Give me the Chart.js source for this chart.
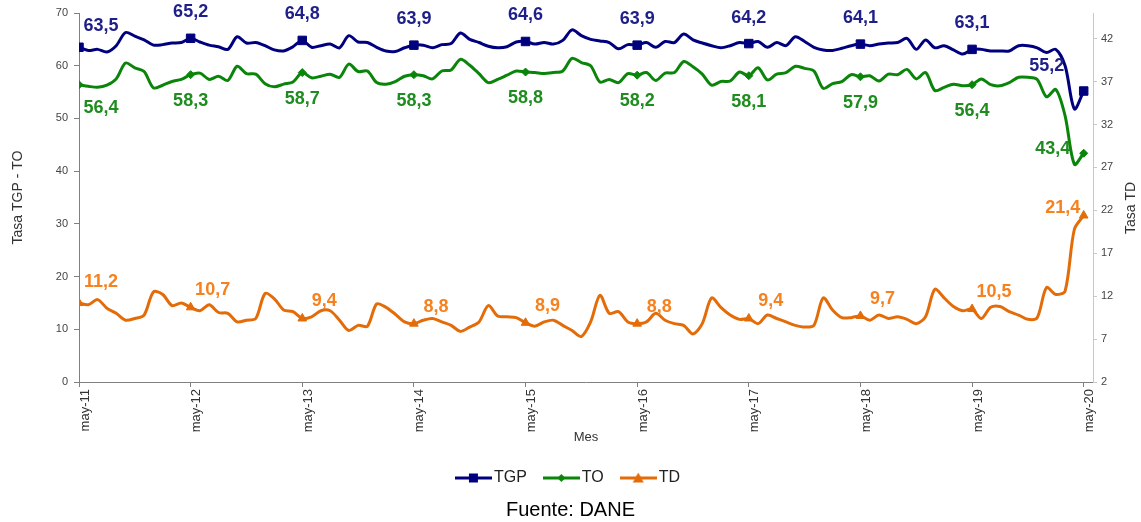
<!DOCTYPE html>
<html>
<head>
<meta charset="utf-8">
<script src="https://cdn.jsdelivr.net/npm/chart.js@4.4.1/dist/chart.umd.min.js"></script>
<style>
  html, body { margin: 0; padding: 0; background: #fff; }
</style>
</head>
<body>
<canvas id="myChart" width="1141" height="522"></canvas>
<script>
// months from may-11 to may-20
const months = [
  "may-11", "jun-11", "jul-11", "ago-11", "sep-11", "oct-11", "nov-11", "dic-11", "ene-12", "feb-12", "mar-12", "abr-12",
  "may-12", "jun-12", "jul-12", "ago-12", "sep-12", "oct-12", "nov-12", "dic-12", "ene-13", "feb-13", "mar-13", "abr-13",
  "may-13", "jun-13", "jul-13", "ago-13", "sep-13", "oct-13", "nov-13", "dic-13", "ene-14", "feb-14", "mar-14", "abr-14",
  "may-14", "jun-14", "jul-14", "ago-14", "sep-14", "oct-14", "nov-14", "dic-14", "ene-15", "feb-15", "mar-15", "abr-15",
  "may-15", "jun-15", "jul-15", "ago-15", "sep-15", "oct-15", "nov-15", "dic-15", "ene-16", "feb-16", "mar-16", "abr-16",
  "may-16", "jun-16", "jul-16", "ago-16", "sep-16", "oct-16", "nov-16", "dic-16", "ene-17", "feb-17", "mar-17", "abr-17",
  "may-17", "jun-17", "jul-17", "ago-17", "sep-17", "oct-17", "nov-17", "dic-17", "ene-18", "feb-18", "mar-18", "abr-18",
  "may-18", "jun-18", "jul-18", "ago-18", "sep-18", "oct-18", "nov-18", "dic-18", "ene-19", "feb-19", "mar-19", "abr-19",
  "may-19", "jun-19", "jul-19", "ago-19", "sep-19", "oct-19", "nov-19", "dic-19", "ene-20", "feb-20", "mar-20", "abr-20",
  "may-20",
];

const tgp = [
  63.5, 62.9, 63.1, 62.6, 63.8, 66.3, 65.6, 64.9, 63.9, 64.0, 64.3, 64.4,
  65.2, 64.5, 63.9, 63.6, 63.1, 65.5, 64.3, 64.4, 63.8, 63.0, 62.8, 63.6,
  64.8, 63.5, 63.8, 64.1, 63.4, 65.7, 64.5, 64.4, 63.5, 62.8, 62.7, 63.4,
  63.9, 63.9, 63.4, 64.0, 64.2, 66.2, 65.0, 64.4, 63.7, 63.4, 63.6, 64.5,
  64.6, 64.1, 64.4, 64.1, 64.8, 66.8, 65.7, 65.0, 64.7, 64.4, 63.2, 64.0,
  63.9, 64.4, 63.5, 64.6, 64.4, 66.0, 64.9, 64.3, 63.8, 63.4, 63.8, 64.4,
  64.2, 64.6, 63.5, 64.4, 63.8, 65.5, 64.6, 63.5, 63.0, 62.9, 63.3, 63.8,
  64.1, 63.8, 64.1, 64.3, 64.4, 65.2, 63.1, 64.9, 63.4, 63.8, 63.0, 62.2,
  63.1, 63.1, 62.8, 62.8, 62.8, 63.8, 63.8, 63.4, 62.5, 63.1, 60.0, 51.8,
  55.2,
];

const to = [
  56.4, 56.1, 55.9, 56.3, 57.5, 60.5, 59.6, 58.9, 55.8, 56.3, 57.0, 57.4,
  58.3, 58.6, 57.4, 58.0, 57.2, 59.9, 58.5, 58.4, 56.6, 56.0, 56.5, 56.9,
  58.7, 57.7, 58.0, 58.4, 57.8, 60.3, 58.9, 59.0, 56.8, 56.5, 57.0, 58.0,
  58.3, 58.1, 57.5, 59.0, 59.2, 61.2, 60.1, 58.5, 56.8, 57.4, 58.2, 59.0,
  58.8, 58.7, 58.5, 58.7, 59.0, 61.4, 60.6, 60.0, 56.9, 57.4, 56.8, 58.5,
  58.2, 58.7, 57.2, 58.6, 58.7, 60.8, 59.8, 58.4, 56.3, 57.0, 57.1, 58.8,
  58.1, 59.6, 57.3, 58.4, 58.7, 59.9, 59.5, 59.0, 55.7, 56.6, 57.0, 58.3,
  57.9, 58.1, 57.1, 58.4, 58.3, 59.3, 57.5, 58.7, 55.3, 55.9, 56.5, 56.2,
  56.4, 57.5, 56.4, 56.2, 56.8, 57.8, 57.8, 57.4, 54.1, 55.5, 50.5, 41.3,
  43.4,
];

const td = [
  11.2, 11.0, 11.6, 10.6, 10.0, 9.2, 9.4, 9.8, 12.5, 12.2, 10.9, 11.2,
  10.7, 10.3, 11.0, 10.1, 10.0, 9.0, 9.2, 9.4, 12.3, 11.7, 10.4, 10.2,
  9.4, 9.6, 10.3, 10.3, 9.2, 8.0, 8.6, 8.5, 11.1, 10.7, 9.9, 9.0,
  8.8, 9.2, 9.4, 9.0, 8.6, 7.9, 8.4, 9.0, 10.9, 9.7, 9.6, 9.5,
  8.9, 8.5, 9.0, 9.2, 8.6, 8.0, 7.3, 9.0, 12.1, 10.0, 10.2, 9.0,
  8.8, 9.0, 10.0, 9.2, 8.8, 8.6, 7.6, 8.8, 11.8, 10.7, 9.8, 9.3,
  9.4, 8.8, 9.8, 9.4, 9.0, 8.6, 8.4, 8.6, 11.8, 10.4, 9.5, 9.5,
  9.7, 9.2, 9.8, 9.4, 9.6, 9.3, 8.8, 9.6, 12.8, 11.8, 10.8, 10.3,
  10.5, 9.4, 10.7, 10.8, 10.2, 9.8, 9.3, 9.5, 13.0, 12.2, 12.6, 19.8,
  21.4,
];

const leftTicks = [0, 10, 20, 30, 40, 50, 60, 70];
const rightTicks = [2, 7, 12, 17, 22, 27, 32, 37, 42];

const mayIdx = months.map((m, i) => (m.startsWith("may") ? i : -1)).filter((i) => i >= 0);

const FONT = "'Liberation Sans', Arial, sans-serif";
Chart.defaults.font.family = FONT;
Chart.defaults.color = "#333";

const colors = {
  TGP: { line: "#00007f", text: "#1f1f8a" },
  TO: { line: "#0a850a", text: "#1e8c1e" },
  TD: { line: "#e36c09", text: "#f5811f" },
};

// where the value labels sit around the may points
const labelPos = {
  TGP: { dx: 0, dy: -26, first: [22, -21], last: [-37, -25] },
  TO: { dx: 0, dy: 26, first: [22, 23], last: [-31, -4] },
  TD: { dx: 22, dy: -17, first: [22, -21], last: [-21, -7] },
};

function legendIcon(color, shape) {
  const c = document.createElement("canvas");
  c.width = 37;
  c.height = 12;
  const g = c.getContext("2d");
  g.strokeStyle = color;
  g.fillStyle = color;
  g.lineWidth = 3;
  g.beginPath();
  g.moveTo(0, 6);
  g.lineTo(37, 6);
  g.stroke();
  g.beginPath();
  if (shape === "rect") {
    g.rect(14, 1.5, 9, 9);
  } else if (shape === "rectRot") {
    g.moveTo(18.5, 2);
    g.lineTo(22.5, 6);
    g.lineTo(18.5, 10);
    g.lineTo(14.5, 6);
    g.closePath();
  } else {
    g.moveTo(18.5, 0.5);
    g.lineTo(24, 10.5);
    g.lineTo(13, 10.5);
    g.closePath();
  }
  g.fill();
  return c;
}

const icons = [
  legendIcon(colors.TGP.line, "rect"),
  legendIcon(colors.TO.line, "rectRot"),
  legendIcon(colors.TD.line, "triangle"),
];

const valueLabels = {
  id: "valueLabels",
  afterDatasetsDraw(chart) {
    const ctx = chart.ctx;
    ctx.save();
    ctx.font = "bold 18px " + FONT;
    ctx.textAlign = "center";
    ctx.textBaseline = "middle";
    chart.data.datasets.forEach((ds, di) => {
      const meta = chart.getDatasetMeta(di);
      const pos = labelPos[ds.label];
      meta.data.forEach((pt, i) => {
        if (i % 12 !== 0) return;
        let dx = pos.dx;
        let dy = pos.dy;
        if (i === 0) [dx, dy] = pos.first;
        if (i === meta.data.length - 1) [dx, dy] = pos.last;
        ctx.fillStyle = colors[ds.label].text;
        ctx.fillText(ds.data[i].y.toFixed(1).replace(".", ","), pt.x + dx, pt.y + dy);
      });
    });
    ctx.restore();
  },
};

const rightTitle = {
  id: "rightTitle",
  afterDraw(chart) {
    const ctx = chart.ctx;
    const s = chart.scales.y1;
    ctx.save();
    ctx.translate(s.right - 10, 208);
    ctx.rotate(-Math.PI / 2);
    ctx.font = "14px " + FONT;
    ctx.fillStyle = "#333";
    ctx.textAlign = "center";
    ctx.textBaseline = "middle";
    ctx.fillText("Tasa TD", 0, 0);
    ctx.restore();
  },
};

function lineSet(label, values, axis, shape, radius) {
  return {
    label: label,
    data: values.map((v, i) => ({ x: i, y: v })),
    yAxisID: axis,
    borderColor: colors[label].line,
    backgroundColor: colors[label].line,
    borderWidth: 3,
    tension: 0.3,
    pointStyle: shape,
    pointRadius: (c) => (c.dataIndex % 12 === 0 ? radius : 0),
    pointBackgroundColor: colors[label].line,
    pointBorderColor: colors[label].line,
    pointBorderWidth: 1,
    fill: false,
  };
}

const ctx = document.getElementById("myChart");

new Chart(ctx, {
  type: "line",
  data: {
    datasets: [
      lineSet("TGP", tgp, "y", "rect", 6),
      lineSet("TO", to, "y", "rectRot", 4),
      lineSet("TD", td, "y1", "triangle", 5),
    ],
  },
  options: {
    responsive: false,
    animation: false,
    layout: {
      padding: { top: 13, left: 0, right: 0, bottom: 0 },
    },
    scales: {
      x: {
        type: "linear",
        min: 0,
        max: 109,
        afterBuildTicks: (scale) => {
          scale.ticks = mayIdx.map((v) => ({ value: v }));
        },
        afterFit: (scale) => {
          scale.height = 66;
        },
        ticks: {
          callback: (v) => months[v],
          minRotation: 90,
          maxRotation: 90,
          autoSkip: false,
          labelOffset: 6,
          padding: 2,
          color: "#333",
          font: { size: 13 },
        },
        grid: { drawOnChartArea: false, tickLength: 5, color: "#808080" },
        border: { color: "#808080" },
        title: {
          display: true,
          text: "Mes",
          color: "#333",
          font: { size: 13 },
          padding: { top: 0, bottom: 3 },
        },
      },
      y: {
        position: "left",
        min: 0,
        max: 70,
        afterBuildTicks: (scale) => {
          scale.ticks = leftTicks.map((v) => ({ value: v }));
        },
        afterFit: (scale) => {
          scale.width = 79;
        },
        ticks: { color: "#444", padding: 6, font: { size: 11 } },
        grid: { drawOnChartArea: false, tickLength: 5, color: "#808080" },
        border: { color: "#808080" },
        title: {
          display: true,
          text: "Tasa TGP - TO",
          color: "#333",
          font: { size: 14 },
          padding: { top: 10, bottom: 0 },
        },
      },
      y1: {
        position: "right",
        min: 2,
        max: 45,
        afterBuildTicks: (scale) => {
          scale.ticks = rightTicks.map((v) => ({ value: v }));
        },
        afterFit: (scale) => {
          scale.width = 48;
        },
        ticks: { color: "#444", padding: 4, font: { size: 11 } },
        grid: { drawOnChartArea: false, tickLength: 4, color: "#c8c8c8" },
        border: { color: "#c8c8c8" },
      },
    },
    plugins: {
      tooltip: { enabled: false },
      legend: {
        position: "bottom",
        labels: {
          usePointStyle: true,
          pointStyleWidth: 25,
          padding: 22,
          color: "#222",
          font: { size: 16 },
          generateLabels: (chart) => {
            const items = Chart.defaults.plugins.legend.labels.generateLabels(chart);
            items.forEach((it, i) => {
              it.pointStyle = icons[i];
            });
            return items;
          },
        },
      },
      subtitle: {
        display: true,
        position: "bottom",
        text: "Fuente: DANE",
        color: "#000",
        font: { size: 20, weight: "normal" },
        padding: { top: 2, bottom: 0 },
      },
    },
  },
  plugins: [valueLabels, rightTitle],
});
</script>
</body>
</html>
